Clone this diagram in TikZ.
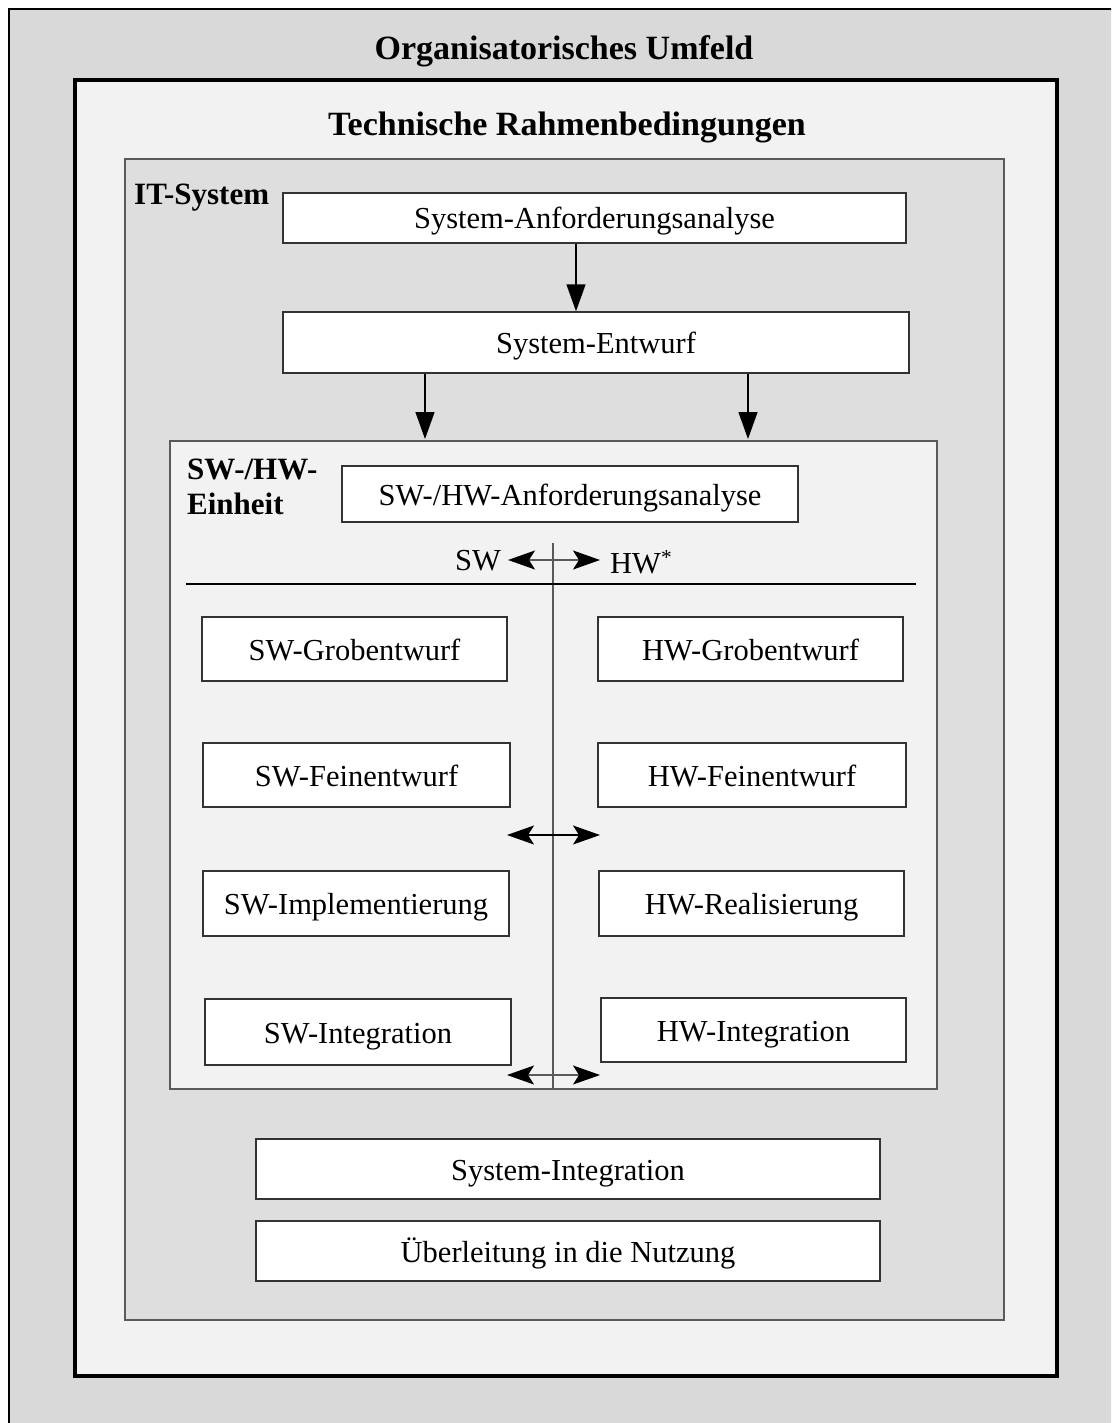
\documentclass[tikz,border=0pt]{standalone}
\usepackage{fontspec}
\setmainfont{Liberation Serif}
\usetikzlibrary{arrows.meta,calc}
\definecolor{outerc}{HTML}{D9D9D9}
\definecolor{lightc}{HTML}{F2F2F2}
\definecolor{itc}{HTML}{DEDEDE}
\definecolor{linec}{HTML}{5A5A5A}
\tikzset{
  proc/.style={draw=black!80, line width=1.4pt, fill=white, inner sep=0pt, text height=24pt, text depth=2pt, font=\fontsize{30.5}{36}\selectfont},
  ttl/.style={font=\fontsize{34}{38}\selectfont\bfseries, inner sep=0pt},
  sttl/.style={font=\fontsize{31}{35}\selectfont\bfseries, inner sep=0pt},
  arr/.style={-{Triangle[length=27pt,width=19pt]}, line width=1.4pt},
  darr/.style={{Stealth[length=27pt,width=19pt,inset=6pt,color=black]}-{Stealth[length=27pt,width=19pt,inset=6pt,color=black]}, line width=1.4pt},
}
\begin{document}
\begin{tikzpicture}[x=1pt,y=-1pt]
\useasboundingbox (0,0) rectangle (1111,1423);
\begin{scope}
\clip (0,0) rectangle (1111,1423);
\fill[outerc] (9,9) rectangle (1130,1440);
\draw[line width=2pt] (9,1440) -- (9,9) -- (1130,9);
\end{scope}
\node[ttl] (org) at (564,51) {Organisatorisches Umfeld};
\draw[line width=4pt, fill=lightc] (75,80) rectangle (1057,1376);
\node[ttl] (tech) at (567,127) {Technische Rahmenbedingungen};
\draw[linec, line width=1.4pt, fill=itc] (125,159) rectangle (1004,1320);
\node[sttl, anchor=west] (it) at (134,198) {IT-System};
\draw[linec, line width=1.4pt, fill=lightc] (170,441) rectangle (937,1089);
\node[sttl, anchor=north west, align=left] (unit) at (187,459) {SW-/HW-\\Einheit};

\node[proc, minimum width=623pt, minimum height=50pt] (sa) at (594.5,218) {System-Anforderungsanalyse};
\node[proc, minimum width=626pt, minimum height=61pt] (se) at (596,342.5) {System-Entwurf};
\node[proc, minimum width=456pt, minimum height=56pt] (hwa) at (570,494) {SW-/HW-Anforderungsanalyse};

\node[proc, minimum width=305pt, minimum height=64pt] (sg) at (354.5,649) {SW-Grobentwurf};
\node[proc, minimum width=305pt, minimum height=64pt] (hg) at (750.5,649) {HW-Grobentwurf};
\node[proc, minimum width=307pt, minimum height=64pt] (sf) at (356.5,775) {SW-Feinentwurf};
\node[proc, minimum width=308pt, minimum height=64pt] (hf) at (752,775) {HW-Feinentwurf};
\node[proc, minimum width=306pt, minimum height=65pt] (si) at (356,903.5) {SW-Implementierung};
\node[proc, minimum width=305pt, minimum height=65pt] (hr) at (751.5,903.5) {HW-Realisierung};
\node[proc, minimum width=306pt, minimum height=66pt] (sint) at (358,1032) {SW-Integration};
\node[proc, minimum width=305pt, minimum height=64pt] (hint) at (753.5,1030) {HW-Integration};

\node[proc, minimum width=624pt, minimum height=60pt] (sysi) at (568,1169) {System-Integration};
\node[proc, minimum width=624pt, minimum height=60pt] (ueb) at (568,1251) {Überleitung in die Nutzung};

% connectors
\draw[arr] (sa.south -| 576,0) -- (se.north -| 576,0);
\coordinate (e1) at (425,439);
\coordinate (e2) at (748,439);
\draw[arr] (se.south -| e1) -- (e1);
\draw[arr] (se.south -| e2) -- (e2);

% SW/HW divider
\coordinate (vtop) at (553,543);
\coordinate (vbot) at (553,1089);
\draw[linec, line width=1.4pt] (vtop) -- (vbot);
\coordinate (hl) at (186,584);
\coordinate (hr2) at (916,584);
\draw[line width=1.4pt] (hl) -- (hr2);
\node[font=\fontsize{30.5}{36}\selectfont, inner sep=0pt, anchor=east] (swl) at (501,561) {SW};
\node[font=\fontsize{30.5}{36}\selectfont, inner sep=0pt, anchor=west] (hwl) at (610,562) {HW\textsuperscript{*}};
\coordinate (a1) at (508,560);
\coordinate (a2) at (600,560);
\draw[darr, linec] (a1) -- (a2);

\coordinate (d1l) at (507,835);
\coordinate (d1r) at (600,835);
\draw[darr] (d1l) -- (d1r);
\coordinate (d2l) at (507,1075);
\coordinate (d2r) at (600,1075);
\draw[darr, linec] (d2l) -- (d2r);
\end{tikzpicture}
\end{document}
